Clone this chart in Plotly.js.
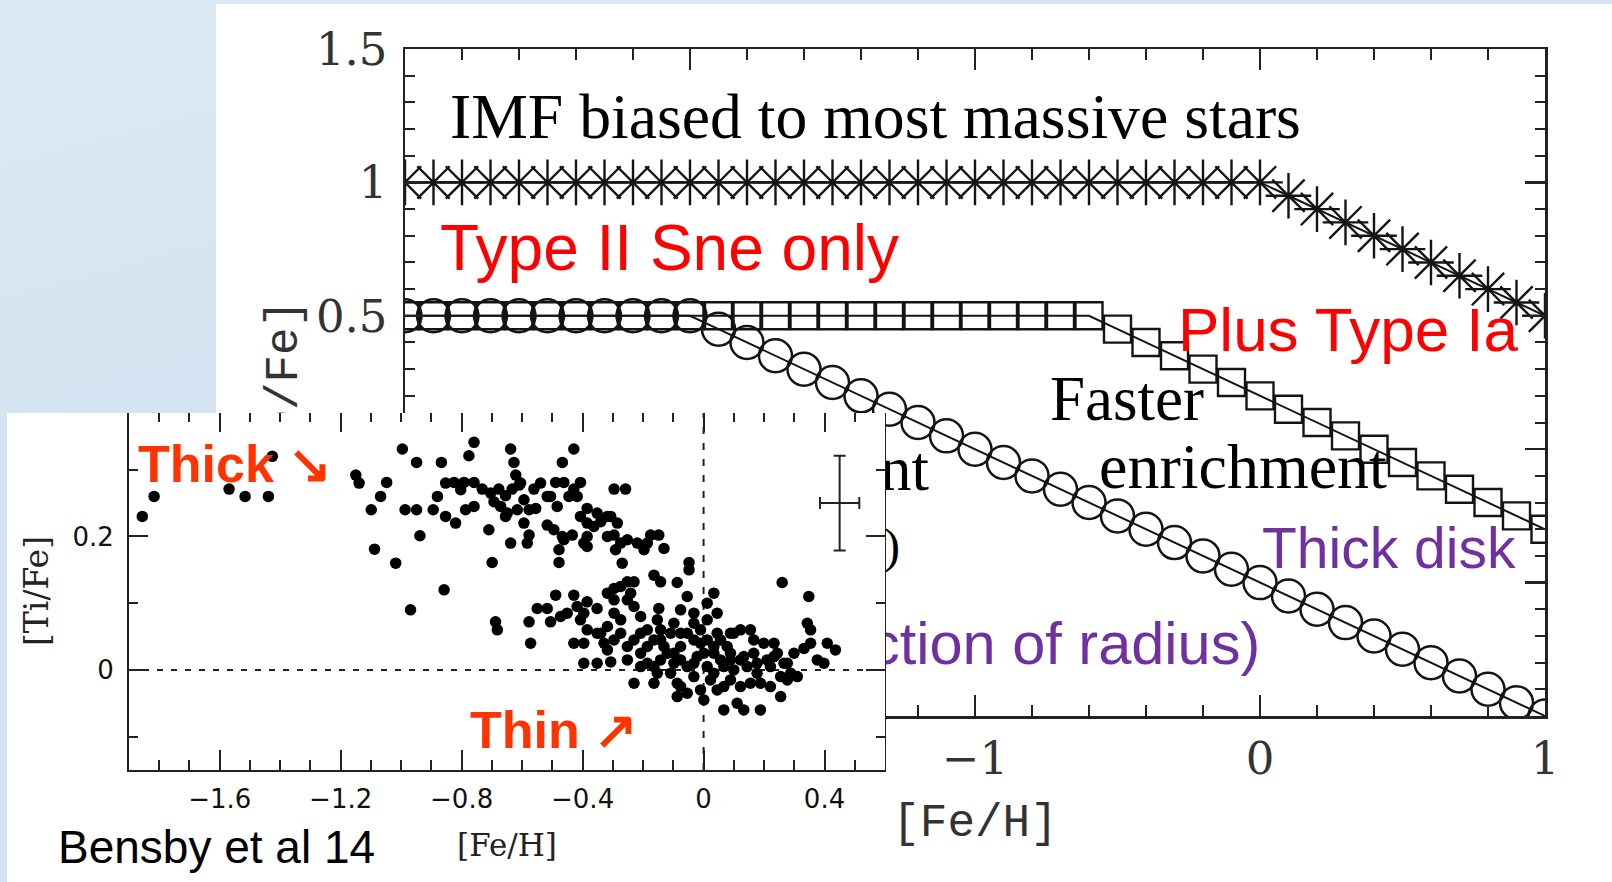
<!DOCTYPE html>
<html>
<head>
<meta charset="utf-8">
<script src="https://cdn.plot.ly/plotly-3.0.1.min.js"></script>
<style>
  html, body { margin: 0; padding: 0; width: 1612px; height: 882px; overflow: hidden; }
  body { background: linear-gradient(165deg, #dce8f5 0%, #d3e2f1 45%, #d6e4f2 100%); position: relative; }
  #sheet { position: absolute; left: 216px; top: 4px; right: 0; bottom: 0; background: #ffffff; }
  #main { position: absolute; left: 0; top: 0; width: 1612px; height: 882px; }
  #insetWrap { position: absolute; left: 7px; top: 413px; width: 879px; height: 469px; overflow: hidden; background: #ffffff; z-index: 5; }
  #inset { position: absolute; left: 0; top: -20px; width: 879px; height: 489px; }
</style>
</head>
<body>
<div id="sheet"></div>
<div id="main"></div>
<div id="insetWrap"><div id="inset"></div></div>
<script>
// ---------- main model chart: [O/Fe] vs [Fe/H] ----------
const feH = [-3.0,-2.9,-2.8,-2.7,-2.6,-2.5,-2.4,-2.3,-2.2,-2.1,-2.0,-1.9,-1.8,-1.7,-1.6,-1.5,-1.4,-1.3,-1.2,-1.1,-1.0,-0.9,-0.8,-0.7,-0.6,-0.5,-0.4,-0.3,-0.2,-0.1,0.0,0.1,0.2,0.3,0.4,0.5,0.6,0.7,0.8,0.9,1.0];
const imfBiasedOFe = [1,1,1,1,1,1,1,1,1,1,1,1,1,1,1,1,1,1,1,1,1,1,1,1,1,1,1,1,1,1,1,0.95,0.90,0.85,0.80,0.75,0.70,0.65,0.60,0.55,0.50];
const fasterOFe = [0.5,0.5,0.5,0.5,0.5,0.5,0.5,0.5,0.5,0.5,0.5,0.5,0.5,0.5,0.5,0.5,0.5,0.5,0.5,0.5,0.5,0.5,0.5,0.5,0.5,0.45,0.40,0.35,0.30,0.25,0.20,0.15,0.10,0.05,0.00,-0.05,-0.10,-0.15,-0.20,-0.25,-0.30];
const slowerOFe = [0.5,0.5,0.5,0.5,0.5,0.5,0.5,0.5,0.5,0.5,0.5,0.45,0.40,0.35,0.30,0.25,0.20,0.15,0.10,0.05,0.00,-0.05,-0.10,-0.15,-0.20,-0.25,-0.30,-0.35,-0.40,-0.45,-0.50,-0.55,-0.60,-0.65,-0.70,-0.75,-0.80,-0.85,-0.90,-0.95,-1.00];

const mainXTicks = [-3, -2, -1, 0, 1];
const mainXTickText = ['', '', '\u22121', '0', '1'];
const mainYTicks = [-1, -0.5, 0, 0.5, 1, 1.5];
const mainYTickText = ['', '', '', '0.5', '1', '1.5'];

// ---------- inset: Bensby et al 14, [Ti/Fe] vs [Fe/H] ----------
const poorFeH  = [-1.856,-1.817,-1.569,-1.516,-1.439,-1.426,-1.150,-1.139,-1.048,-1.068,-1.099,-0.996,-0.949,-0.867,-0.987,-0.949,-0.894,-1.088,-0.938,-1.018,-0.858,-0.969,-0.880,-0.853,-0.853];
const poorTiFe = [0.230,0.260,0.271,0.260,0.260,0.320,0.292,0.280,0.281,0.260,0.240,0.331,0.311,0.311,0.240,0.240,0.240,0.181,0.201,0.160,0.120,0.090,0.260,0.280,0.230];

const thickFeH  = [-0.759,-0.776,-0.638,-0.627,-0.429,-0.467,-0.621,-0.610,-0.825,-0.792,-0.759,-0.732,-0.677,-0.655,-0.633,-0.605,-0.561,-0.517,-0.489,-0.462,-0.429,-0.407,-0.296,-0.258,-0.787,-0.759,-0.693,-0.671,-0.649,-0.616,-0.577,-0.555,-0.506,-0.445,-0.418,-0.385,-0.352,-0.318,-0.820,-0.710,-0.655,-0.594,-0.517,-0.495,-0.467,-0.434,-0.407,-0.385,-0.340,-0.307,-0.285,-0.638,-0.583,-0.577,-0.478,-0.462,-0.396,-0.385,-0.296,-0.274,-0.252,-0.219,-0.175,-0.148,-0.186,-0.131,-0.291,-0.197,-0.699,-0.478,-0.269,-0.048,-0.048,-0.164,-0.142,-0.087,-0.296,-0.252,-0.230,-0.803,-0.704,-0.539,-0.594,-0.363,-0.484,-0.318,-0.385];
const thickTiFe = [0.341,0.321,0.331,0.311,0.331,0.311,0.292,0.277,0.281,0.281,0.281,0.271,0.271,0.261,0.271,0.280,0.271,0.260,0.281,0.281,0.271,0.281,0.271,0.271,0.240,0.245,0.252,0.245,0.235,0.240,0.240,0.242,0.260,0.260,0.260,0.242,0.235,0.230,0.220,0.210,0.230,0.220,0.217,0.210,0.200,0.202,0.230,0.220,0.222,0.230,0.220,0.190,0.190,0.202,0.180,0.195,0.190,0.200,0.202,0.190,0.195,0.190,0.202,0.202,0.190,0.182,0.180,0.180,0.161,0.161,0.160,0.161,0.150,0.142,0.132,0.131,0.122,0.132,0.132,0.270,0.265,0.280,0.255,0.215,0.245,0.200,0.185];

const thinFeH  = [-0.489,-0.429,-0.550,-0.517,-0.506,-0.473,-0.451,-0.418,-0.385,-0.352,-0.407,-0.385,-0.429,-0.396,-0.572,-0.577,-0.688,-0.682,-0.396,-0.352,-0.307,-0.318,-0.296,-0.340,-0.318,-0.274,-0.252,-0.230,-0.208,-0.186,-0.274,-0.252,-0.230,-0.208,-0.186,-0.153,-0.164,-0.230,-0.142,-0.131,-0.109,-0.153,-0.148,-0.076,-0.054,0.012,0.034,-0.032,-0.010,-0.054,-0.076,-0.098,-0.054,-0.032,-0.010,-0.076,-0.087,0.012,0.034,0.012,0.056,0.078,0.100,0.045,0.001,0.067,0.111,0.133,0.188,0.089,0.122,0.144,0.177,0.166,0.122,0.155,0.199,0.233,0.244,0.221,0.266,0.255,0.255,0.288,0.310,0.299,0.332,0.354,0.343,0.354,0.376,0.398,0.409,0.436,0.260,0.348,0.089,0.034,0.045,0.155,0.089,0.034,0.067,0.122,0.210,0.277,-0.109,-0.087,-0.054,-0.021,-0.186,-0.142,-0.098,-0.164,-0.252,-0.208,-0.142,-0.098,-0.032,-0.032,0.012,0.045,-0.120,-0.076,-0.032,0.001,0.023,0.067,0.100,0.133,0.177,0.188,0.221,0.233,0.277,0.166,0.089,0.056,-0.010,-0.076,-0.164,-0.208,-0.329,-0.352,-0.396,-0.296,-0.274,-0.241,-0.318,-0.296];
const thinTiFe = [0.112,0.112,0.092,0.092,0.072,0.080,0.085,0.095,0.102,0.092,0.075,0.060,0.040,0.040,0.040,0.072,0.072,0.060,0.010,0.010,0.012,0.030,0.045,0.055,0.065,0.075,0.105,0.095,0.080,0.060,0.055,0.035,0.045,0.025,0.010,-0.005,-0.020,-0.020,0.015,0.035,0.055,0.075,0.092,0.090,0.110,0.100,0.115,0.070,0.060,0.055,0.035,0.010,0.005,-0.010,-0.030,-0.025,-0.040,0.045,0.025,0.005,0.015,0.035,0.055,0.055,-0.045,-0.060,-0.050,-0.060,-0.060,-0.015,-0.025,0.005,-0.005,0.025,0.060,0.060,0.040,0.040,0.025,0.005,0.010,-0.040,-0.010,-0.005,-0.010,0.025,0.032,0.040,0.070,0.060,0.015,0.010,0.040,0.030,0.131,0.110,0.015,-0.005,-0.030,-0.020,0.055,0.035,0.005,0.015,0.015,0.010,-0.005,-0.020,-0.035,0.020,0.035,0.045,0.025,0.005,0.015,0.055,0.060,0.070,0.085,0.045,0.075,0.085,0.025,0.015,0.010,0.025,-0.015,-0.025,0.000,0.020,0.010,-0.020,-0.025,0.020,-0.015,0.045,0.025,0.045,0.040,0.055,0.045,0.005,0.040,0.055,0.085,0.085,0.125,0.115,0.115,0.105];

const errCentre = { x: [0.450], y: [0.250] };
const errSize = { x: [0.065], y: [0.071] };

const INK = '#141414';

// ---------------- main plot ----------------
const mainTraces = [
  { x: feH, y: imfBiasedOFe, mode: 'lines+markers', line: { color: INK, width: 2 },
    marker: { symbol: 'asterisk-open', size: 38, color: INK, line: { color: INK, width: 2.4 } } },
  { x: feH, y: fasterOFe, mode: 'lines+markers', line: { color: INK, width: 2 },
    marker: { symbol: 'square-open', size: 27, color: INK, line: { color: INK, width: 2.4 } } },
  { x: feH, y: slowerOFe, mode: 'lines+markers', line: { color: INK, width: 2 },
    marker: { symbol: 'circle-open', size: 33, color: INK, line: { color: INK, width: 2.5 } } }
];

const serif = 'Liberation Serif, Times New Roman, serif';
const sans = 'Liberation Sans, Arial, sans-serif';
const axisFont = 'DejaVu Serif, serif';
const titleFont = 'Liberation Mono, Courier New, monospace';

function note(text, x, y, xanchor, font) {
  return { text: text, x: x, y: y, xref: 'paper', yref: 'paper', xanchor: xanchor, yanchor: 'middle',
           showarrow: false, font: font, borderpad: 0 };
}

const mainLayout = {
  width: 1612, height: 882,
  margin: { l: 405, r: 67, t: 49, b: 166, pad: 0 },
  paper_bgcolor: 'rgba(0,0,0,0)', plot_bgcolor: 'rgba(0,0,0,0)',
  showlegend: false,
  xaxis: {
    range: [-3, 1], showgrid: false, zeroline: false,
    showline: true, linecolor: '#222', linewidth: 2.5, mirror: 'ticks',
    ticks: 'inside', ticklen: 21, tickwidth: 2.5, tickcolor: '#222',
    tickmode: 'array', tickvals: mainXTicks, ticktext: mainXTickText, ticklabelstandoff: 1,
    tickfont: { family: axisFont, size: 45, color: '#333' },
    minor: { tickmode: 'linear', tick0: 0, dtick: 0.2, ticks: 'inside', ticklen: 11, tickwidth: 2, tickcolor: '#222' },
    title: { text: '[Fe/H]', font: { family: titleFont, size: 46, color: '#333' }, standoff: 21 }
  },
  yaxis: {
    range: [-1, 1.5], showgrid: false, zeroline: false,
    showline: true, linecolor: '#222', linewidth: 2.5, mirror: 'ticks',
    ticks: 'inside', ticklen: 20, tickwidth: 2.5, tickcolor: '#222',
    tickmode: 'array', tickvals: mainYTicks, ticktext: mainYTickText, ticklabelstandoff: 6,
    tickfont: { family: axisFont, size: 45, color: '#333' },
    minor: { tickmode: 'linear', tick0: 0, dtick: 0.1, ticks: 'inside', ticklen: 10, tickwidth: 2, tickcolor: '#222' },
    title: { text: '[O/Fe]', font: { family: titleFont, size: 46, color: '#333' }, standoff: 4 }
  },
  annotations: [
    note('IMF biased to most massive stars', 0.0386, 0.8985, 'left', { family: serif, size: 63.7, color: '#000' }),
    note('Type II Sne only', 0.0298, 0.7013, 'left', { family: sans, size: 64, color: '#ff0000' }),
    note('Plus Type Ia', 0.6772, 0.5799, 'left', { family: sans, size: 62, color: '#ff0000' }),
    note('Faster', 0.5649, 0.4757, 'left', { family: serif, size: 63, color: '#000' }),
    note('enrichment', 0.6079, 0.3738, 'left', { family: serif, size: 64, color: '#000' }),
    note('nt', 0.4614, 0.3708, 'right', { family: serif, size: 63, color: '#000' }),
    note(')', 0.4351, 0.2549, 'right', { family: serif, size: 48, color: '#000' }),
    note('Thick disk', 0.7509, 0.2519, 'left', { family: sans, size: 57, color: '#7030a0' }),
    note('ction of radius)', 0.4070, 0.1094, 'left', { family: sans, size: 59.5, color: '#7030a0' })
  ]
};

Plotly.newPlot('main', mainTraces, mainLayout, { staticPlot: true, displayModeBar: false });

// ---------------- inset ----------------
const dot = { size: 11.5, color: '#000' };
const insetTraces = [
  { x: poorFeH, y: poorTiFe, mode: 'markers', marker: dot },
  { x: thickFeH, y: thickTiFe, mode: 'markers', marker: dot },
  { x: thinFeH, y: thinTiFe, mode: 'markers', marker: dot },
  { x: errCentre.x, y: errCentre.y, mode: 'markers', marker: { size: 1, color: 'rgba(0,0,0,0)' },
    error_x: { type: 'data', array: errSize.x, color: '#222', thickness: 2, width: 6 },
    error_y: { type: 'data', array: errSize.y, color: '#222', thickness: 2, width: 6 } }
];

const insetTickFont = { family: 'DejaVu Sans, sans-serif', size: 26, color: '#111' };

const insetLayout = {
  width: 879, height: 489,
  margin: { l: 122, r: 1, t: 19, b: 112, pad: 0 },
  paper_bgcolor: 'rgba(0,0,0,0)', plot_bgcolor: 'rgba(0,0,0,0)',
  showlegend: false,
  xaxis: {
    range: [-1.9, 0.6], showgrid: false, zeroline: false,
    showline: true, linecolor: '#222', linewidth: 2, mirror: 'ticks',
    ticks: 'inside', ticklen: 20, tickwidth: 2, tickcolor: '#222',
    tick0: 0, dtick: 0.4, ticklabelstandoff: 5,
    tickfont: insetTickFont,
    minor: { dtick: 0.1, ticks: 'inside', ticklen: 10, tickwidth: 2, tickcolor: '#222' },
    title: { text: '[Fe/H]', font: { family: axisFont, size: 31, color: '#222' }, standoff: 21 }
  },
  yaxis: {
    range: [-0.15, 0.3865], showgrid: false, zeroline: false,
    showline: true, linecolor: '#222', linewidth: 2, mirror: 'ticks',
    ticks: 'inside', ticklen: 19, tickwidth: 2, tickcolor: '#222',
    tick0: 0, dtick: 0.2, ticklabelstandoff: 8,
    tickfont: insetTickFont,
    minor: { dtick: 0.1, ticks: 'inside', ticklen: 9, tickwidth: 2, tickcolor: '#222' },
    title: { text: '[Ti/Fe]', font: { family: axisFont, size: 33, color: '#222' }, standoff: 14 }
  },
  shapes: [
    { type: 'line', xref: 'x', yref: 'y', x0: -1.9, x1: 0.6, y0: 0, y1: 0, layer: 'below',
      line: { color: '#222', width: 2, dash: '6px,8px' } },
    { type: 'line', xref: 'x', yref: 'y', x0: 0, x1: 0, y0: -0.15, y1: 0.3865, layer: 'below',
      line: { color: '#222', width: 2, dash: '7px,9px' } }
  ],
  annotations: [
    note('<b>Thick \u2198</b>', 0.0106, 0.8556, 'left', { family: sans, size: 52, color: '#ff3300' }),
    note('<b>Thin \u2197</b>', 0.4497, 0.1109, 'left', { family: sans, size: 52, color: '#ff3300' }),
    note('Bensby et al 14', -0.0952, -0.2150, 'left', { family: sans, size: 46, color: '#000' })
  ]
};

Plotly.newPlot('inset', insetTraces, insetLayout, { staticPlot: true, displayModeBar: false });
</script>
</body>
</html>
